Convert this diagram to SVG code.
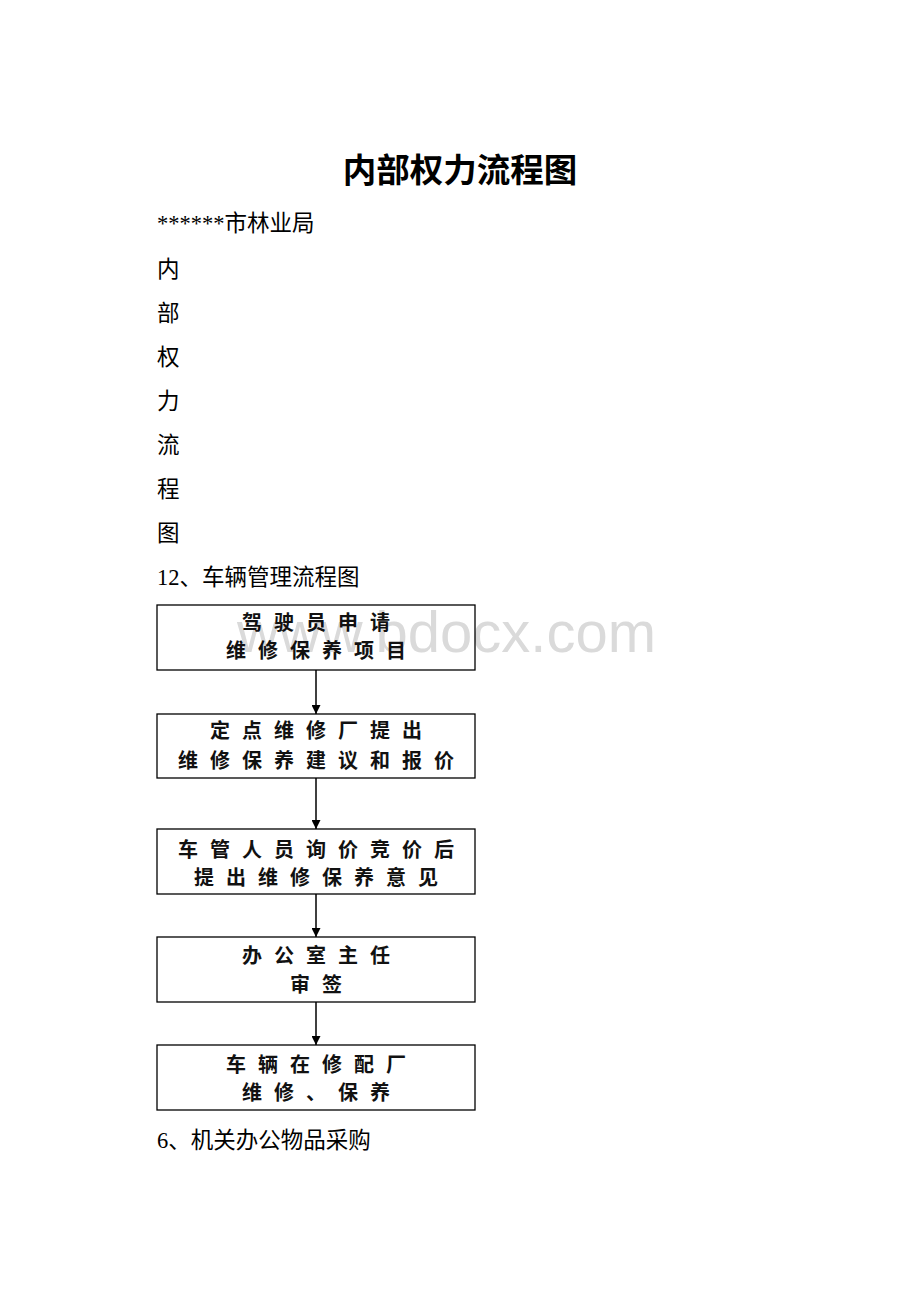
<svg xmlns="http://www.w3.org/2000/svg" width="920" height="1302" viewBox="0 0 920 1302">
<style>
.body{font-family:"Liberation Serif","Noto Sans CJK SC",serif;font-size:22.5px;fill:#000}
.title{font-family:"Liberation Serif","Noto Sans CJK SC",serif;font-size:33.5px;font-weight:bold;fill:#000}
.box{fill:none;stroke:#000;stroke-width:1.3}
.bt{font-family:"Noto Sans CJK SC",sans-serif;font-size:20px;font-weight:bold;letter-spacing:12px;fill:#111}
.wm{font-family:"Liberation Sans",Arial,sans-serif;font-size:58px;fill:#dadada}
.conn{stroke:#000;stroke-width:1.5;fill:none}
</style>
<defs>
<marker id="ah" viewBox="0 0 10 10" refX="10" refY="5" markerWidth="9" markerHeight="9" markerUnits="userSpaceOnUse" orient="auto">
<path d="M0,0 L10,5 L0,10 Z" fill="#000"/>
</marker>
</defs>
<rect width="920" height="1302" fill="#fff"/>
<text class="title" x="460" y="182" text-anchor="middle">内部权力流程图</text>
<text class="body" x="157" y="231">******市林业局</text>
<text class="body" x="157" y="277">内</text>
<text class="body" x="157" y="321">部</text>
<text class="body" x="157" y="365">权</text>
<text class="body" x="157" y="409">力</text>
<text class="body" x="157" y="453">流</text>
<text class="body" x="157" y="497">程</text>
<text class="body" x="157" y="541">图</text>
<text class="body" x="157" y="585">12、车辆管理流程图</text>
<text class="wm" x="237" y="652">www.bdocx.com</text>
<g id="n1">
<rect class="box" x="157" y="605" width="318" height="65"/>
<text class="bt" x="242" y="630">驾驶员申请</text>
<text class="bt" x="226" y="658">维修保养项目</text>
</g>
<g id="n2">
<rect class="box" x="157" y="714" width="318" height="64"/>
<text class="bt" x="210" y="738">定点维修厂提出</text>
<text class="bt" x="178" y="768">维修保养建议和报价</text>
</g>
<g id="n3">
<rect class="box" x="157" y="829" width="318" height="65"/>
<text class="bt" x="178" y="857">车管人员询价竞价后</text>
<text class="bt" x="194" y="885">提出维修保养意见</text>
</g>
<g id="n4">
<rect class="box" x="157" y="937" width="318" height="65"/>
<text class="bt" x="242" y="963">办公室主任</text>
<text class="bt" x="290" y="992">审签</text>
</g>
<g id="n5">
<rect class="box" x="157" y="1045" width="318" height="65"/>
<text class="bt" x="226" y="1072">车辆在修配厂</text>
<text class="bt" x="242" y="1100">维修、保养</text>
</g>
<g id="connectors">
<line class="conn" x1="316" y1="670" x2="316" y2="714" marker-end="url(#ah)"/>
<line class="conn" x1="316" y1="778" x2="316" y2="829" marker-end="url(#ah)"/>
<line class="conn" x1="316" y1="894" x2="316" y2="937" marker-end="url(#ah)"/>
<line class="conn" x1="316" y1="1002" x2="316" y2="1045" marker-end="url(#ah)"/>
</g>
<text class="body" x="157" y="1148">6、机关办公物品采购</text>
</svg>
